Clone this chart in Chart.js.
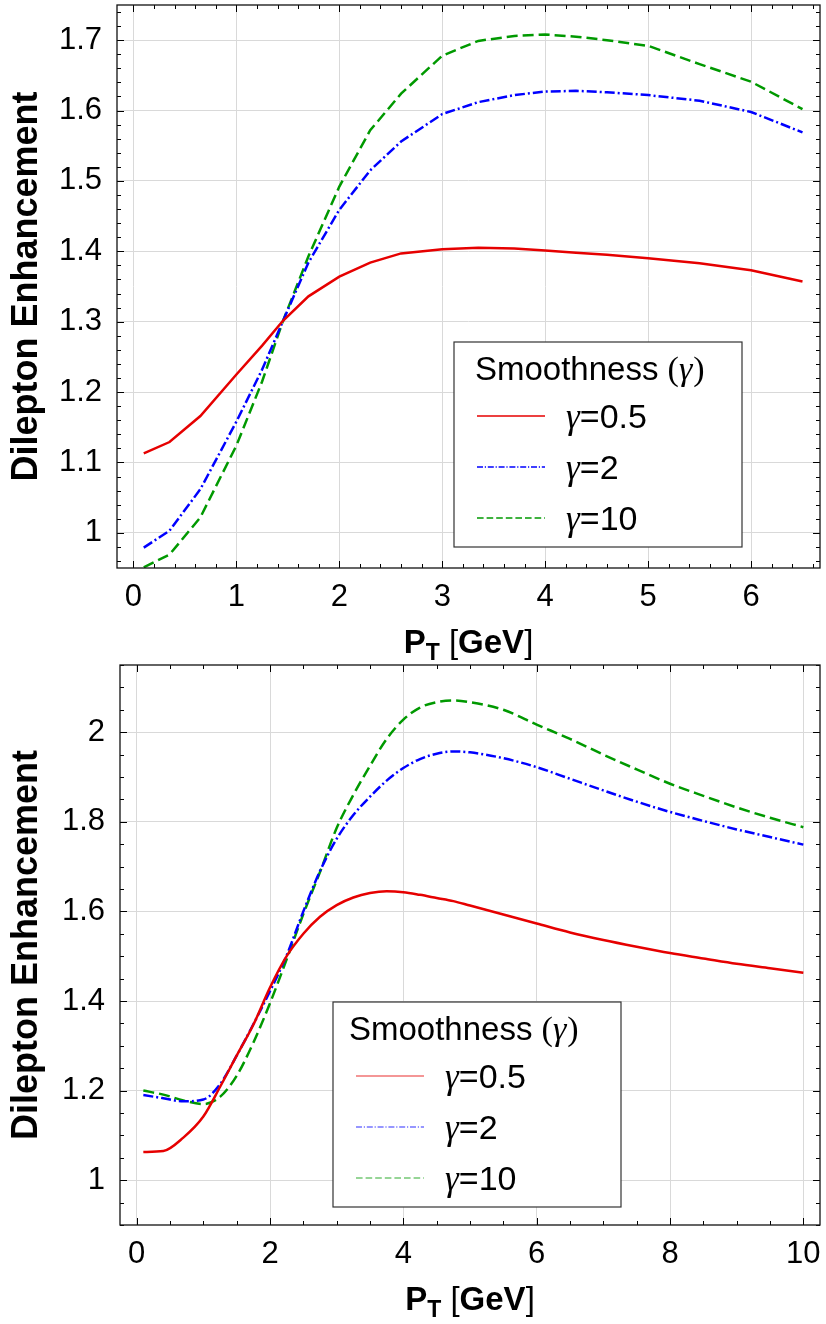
<!DOCTYPE html>
<html>
<head>
<meta charset="utf-8">
<script src="https://cdn.jsdelivr.net/npm/chart.js@4.4.1/dist/chart.umd.min.js"></script>
<style>
  html, body { margin: 0; padding: 0; background: #fff; }
  #wrap { position: relative; width: 826px; height: 1324px; }
  canvas { position: absolute; left: 0; }
</style>
</head>
<body>
<div id="wrap">
  <canvas id="chart-top" width="826" height="664" style="top:0"></canvas>
  <canvas id="chart-bottom" width="826" height="669" style="top:655px"></canvas>
</div>
<script>
// --- Data ---
const gammaLabels = ['0.5', '2', '10'];

// top panel
const topPt = [0.1, 0.35, 0.65, 1.0, 1.25, 1.45, 1.7, 2.0, 2.3, 2.6, 3.0, 3.35, 3.7, 4.0, 4.3, 4.6, 5.0, 5.5, 6.0, 6.5];
const topG05 = [1.113, 1.129, 1.166, 1.225, 1.266, 1.301, 1.336, 1.364, 1.384, 1.397, 1.403, 1.405, 1.404, 1.401, 1.398, 1.395, 1.390, 1.383, 1.373, 1.357];
const topG2  = [0.979, 1.003, 1.062, 1.158, 1.232, 1.300, 1.384, 1.459, 1.515, 1.556, 1.595, 1.612, 1.622, 1.627, 1.628, 1.626, 1.622, 1.614, 1.598, 1.569];
const topG10 = [0.951, 0.969, 1.022, 1.124, 1.215, 1.300, 1.393, 1.492, 1.572, 1.624, 1.678, 1.699, 1.706, 1.708, 1.705, 1.700, 1.692, 1.666, 1.641, 1.602];
const topXTicks = [0, 1, 2, 3, 4, 5, 6];
const topYTicks = [1, 1.1, 1.2, 1.3, 1.4, 1.5, 1.6, 1.7];

// bottom panel
const botPt = [0.1, 0.4, 0.7, 1.0, 1.25, 1.5, 1.75, 2.0, 2.25, 2.5, 2.75, 3.0, 3.25, 3.5, 3.75, 4.0, 4.25, 4.5, 4.75, 5.0, 5.5, 6.0, 6.5, 7.0, 7.5, 8.0, 8.5, 9.0, 9.5, 10.0];
const botG05 = [1.063, 1.065, 1.095, 1.142, 1.208, 1.278, 1.347, 1.430, 1.500, 1.550, 1.588, 1.614, 1.631, 1.641, 1.645, 1.643, 1.637, 1.630, 1.623, 1.613, 1.593, 1.573, 1.553, 1.536, 1.521, 1.507, 1.495, 1.483, 1.473, 1.463];
const botG2  = [1.190, 1.183, 1.176, 1.180, 1.214, 1.278, 1.348, 1.422, 1.502, 1.600, 1.690, 1.762, 1.815, 1.856, 1.892, 1.920, 1.940, 1.952, 1.957, 1.955, 1.942, 1.922, 1.896, 1.870, 1.845, 1.822, 1.802, 1.783, 1.766, 1.749];
const botG10 = [1.200, 1.191, 1.178, 1.170, 1.186, 1.233, 1.307, 1.395, 1.493, 1.594, 1.688, 1.786, 1.860, 1.925, 1.985, 2.028, 2.055, 2.067, 2.071, 2.067, 2.050, 2.017, 1.985, 1.950, 1.917, 1.885, 1.858, 1.832, 1.809, 1.788];
const botXTicks = [0, 2, 4, 6, 8, 10];
const botYTicks = [1, 1.2, 1.4, 1.6, 1.8, 2];

// --- Styles ---
const SANS = '"Liberation Sans", Arial, Helvetica, sans-serif';
const SERIF = '"Liberation Serif", "DejaVu Serif", serif';
const seriesStyle = [
    { color: '#e60000', dash: [] },
    { color: '#0000ff', dash: [10, 3, 2, 3] },
    { color: '#009900', dash: [11, 5] }
];

function makeDatasets(xs, series) {
    return series.map((ys, i) => ({
        label: `γ=${gammaLabels[i]}`,
        data: xs.map((x, j) => ({ x: x, y: ys[j] })),
        borderColor: seriesStyle[i].color,
        borderDash: seriesStyle[i].dash,
        borderWidth: 2.5,
        pointRadius: 0,
        fill: false
    }));
}

function strokeLine(ctx, x1, y1, x2, y2) {
    ctx.beginPath();
    ctx.moveTo(x1, y1);
    ctx.lineTo(x2, y2);
    ctx.stroke();
}

function minorValues(min, max, step) {
    const out = [];
    for (let k = Math.ceil(min / step); k * step <= max + 1e-9; k++) out.push(+(k * step).toFixed(6));
    return out;
}

// frame with inward ticks on all four sides, legend box, subscripted x title
const decorPlugin = {
    id: 'decor',
    afterDraw(chart, args, opts) {
        const { ctx, chartArea: a, scales: { x, y } } = chart;
        ctx.save();

        // ticks
        ctx.strokeStyle = '#000';
        ctx.lineWidth = 1;
        const majX = x.ticks.map(t => t.value), majY = y.ticks.map(t => t.value);
        minorValues(x.min, x.max, opts.minorX).forEach(v => {
            const p = Math.round(x.getPixelForValue(v)) + 0.5;
            const len = majX.some(m => Math.abs(m - v) < 1e-6) ? 7 : 4;
            strokeLine(ctx, p, a.bottom, p, a.bottom - len);
            strokeLine(ctx, p, a.top, p, a.top + len);
        });
        minorValues(y.min, y.max, opts.minorY).forEach(v => {
            const p = Math.round(y.getPixelForValue(v)) + 0.5;
            const len = majY.some(m => Math.abs(m - v) < 1e-6) ? 7 : 4;
            strokeLine(ctx, a.left, p, a.left + len, p);
            strokeLine(ctx, a.right, p, a.right - len, p);
        });

        // frame
        ctx.lineWidth = 1.3;
        ctx.strokeStyle = '#111';
        ctx.strokeRect(a.left, a.top, a.right - a.left, a.bottom - a.top);

        // legend
        const L = opts.legend;
        ctx.fillStyle = '#fff';
        ctx.fillRect(L.left, L.top, 288, 205);
        ctx.lineWidth = 1.2;
        ctx.strokeStyle = '#333';
        ctx.strokeRect(L.left, L.top, 288, 205);
        ctx.fillStyle = '#000';
        ctx.textBaseline = 'alphabetic';
        ctx.textAlign = 'left';
        let tx = L.left + L.titleDx;
        ctx.font = `33px ${SANS}`;
        ctx.fillText('Smoothness ', tx, L.top + 38);
        tx += ctx.measureText('Smoothness ').width;
        ctx.font = `34px ${SERIF}`;
        ctx.fillText('(', tx, L.top + 38);
        tx += ctx.measureText('(').width;
        ctx.font = `italic 34px ${SERIF}`;
        ctx.fillText('γ', tx, L.top + 38);
        tx += ctx.measureText('γ').width + 1;
        ctx.font = `34px ${SERIF}`;
        ctx.fillText(')', tx, L.top + 38);

        chart.data.datasets.forEach((ds, i) => {
            const ly = L.top + 74 + i * 51;
            ctx.save();
            ctx.globalAlpha = L.alpha;
            ctx.strokeStyle = ds.borderColor;
            ctx.lineWidth = 1.3;
            ctx.setLineDash(ds.borderDash.map(d => d * 0.6));
            strokeLine(ctx, L.left + 23, ly, L.left + 91, ly);
            ctx.restore();
            let gx = L.left + 112;
            const by = L.top + 86 + i * 51;
            ctx.font = `italic 35px ${SERIF}`;
            ctx.fillText('γ', gx, by);
            gx += ctx.measureText('γ').width;
            ctx.font = `34px ${SANS}`;
            ctx.fillText('=' + gammaLabels[i], gx, by);
        });

        // x axis title: P_T [GeV]
        const parts = [
            { t: 'P', f: `bold 33px ${SANS}`, dy: 0 },
            { t: 'T', f: `bold 23px ${SANS}`, dy: 7 },
            { t: ' [', f: `33px ${SANS}`, dy: 0 },
            { t: 'GeV', f: `bold 33px ${SANS}`, dy: 0 },
            { t: ']', f: `33px ${SANS}`, dy: 0 }
        ];
        let w = 0;
        parts.forEach(p => { ctx.font = p.f; p.w = ctx.measureText(p.t).width; w += p.w; });
        let px = (a.left + a.right) / 2 - w / 2;
        const base = a.bottom + 85;
        parts.forEach(p => { ctx.font = p.f; ctx.fillText(p.t, px, base + p.dy); px += p.w; });

        ctx.restore();
    }
};

function buildChart(id, cfg) {
    return new Chart(document.getElementById(id), {
        type: 'line',
        data: { datasets: makeDatasets(cfg.xs, cfg.series) },
        options: {
            responsive: false,
            animation: false,
            layout: { padding: { top: cfg.padTop, right: 6, left: 0, bottom: 0 } },
            plugins: {
                legend: { display: false },
                tooltip: { enabled: false },
                decor: { minorX: cfg.minorX, minorY: cfg.minorY, legend: cfg.legend }
            },
            elements: { line: cfg.line },
            scales: {
                x: {
                    type: 'linear',
                    min: cfg.xRange[0],
                    max: cfg.xRange[1],
                    afterBuildTicks: s => { s.ticks = cfg.xTicks.map(v => ({ value: v })); },
                    afterFit: s => {
                        s.height = cfg.xHeight;
                        s.paddingLeft = 0;
                        s.paddingRight = 0;
                    },
                    grid: { color: '#d9d9d9', lineWidth: 1, drawTicks: false },
                    border: { display: false },
                    ticks: {
                        color: '#000',
                        padding: 11,
                        maxRotation: 0,
                        font: { family: SANS, size: 31 },
                        callback: v => String(v)
                    }
                },
                y: {
                    type: 'linear',
                    min: cfg.yRange[0],
                    max: cfg.yRange[1],
                    afterBuildTicks: s => { s.ticks = cfg.yTicks.map(v => ({ value: v })); },
                    afterFit: s => {
                        s.width = cfg.yWidth;
                        s.paddingTop = 0;
                        s.paddingBottom = 0;
                    },
                    grid: { color: '#d9d9d9', lineWidth: 1, drawTicks: false },
                    border: { display: false },
                    ticks: {
                        color: '#000',
                        padding: 15,
                        font: { family: SANS, size: 31 },
                        callback: v => String(v)
                    },
                    title: {
                        display: true,
                        text: 'Dilepton Enhancement',
                        color: '#000',
                        padding: { top: 5, bottom: 0 },
                        font: { family: SANS, size: 36, weight: 'bold' }
                    }
                }
            }
        },
        plugins: [decorPlugin]
    });
}

buildChart('chart-top', {
    xs: topPt,
    series: [topG05, topG2, topG10],
    xRange: [-0.16, 6.67],
    yRange: [0.95, 1.75],
    xTicks: topXTicks,
    yTicks: topYTicks,
    minorX: 0.2,
    minorY: 0.02,
    padTop: 5,
    xHeight: 96,
    yWidth: 117,
    line: { tension: 0 },
    legend: { left: 454, top: 342, titleDx: 21, alpha: 1 }
});

buildChart('chart-bottom', {
    xs: botPt,
    series: [botG05, botG2, botG10],
    xRange: [-0.25, 10.25],
    yRange: [0.9, 2.15],
    xTicks: botXTicks,
    yTicks: botYTicks,
    minorX: 0.5,
    minorY: 0.05,
    padTop: 10,
    xHeight: 99,
    yWidth: 120,
    line: { tension: 0.4, cubicInterpolationMode: 'monotone' },
    legend: { left: 333, top: 347, titleDx: 16, alpha: 0.55 }
});
</script>
</body>
</html>
